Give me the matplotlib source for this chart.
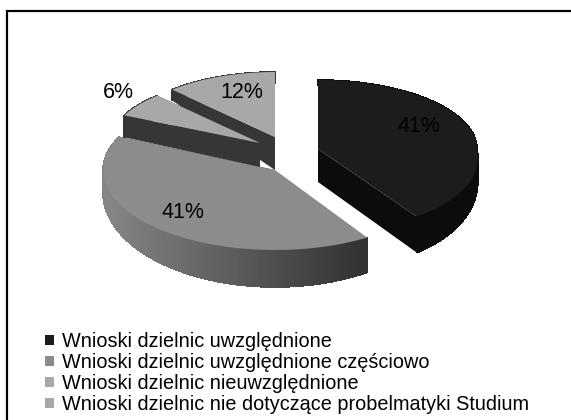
import numpy as np
import matplotlib
matplotlib.use('Agg')
import matplotlib.pyplot as plt
from matplotlib.patches import Polygon, Patch, Rectangle

labels = ['Wnioski dzielnic uwzględnione',
          'Wnioski dzielnic uwzględnione częściowo',
          'Wnioski dzielnic nieuwzględnione',
          'Wnioski dzielnic nie dotyczące probelmatyki Studium']
values = [41, 41, 6, 12]
top_colors = ['#1c1c1c', '#8c8c8c', '#a8a8a8', '#a8a8a8']
legend_colors = ['#1c1c1c', '#8c8c8c', '#a8a8a8', '#a8a8a8']

# pixel layout of each exploded slice: apex x, apex y, rx, ry back, ry front, skew
layout = [(318, 149, 159, 69, 80, 0.2),
          (275, 170, 172, 78, 80, 0.0),
          (260, 143, 150, 65, 65, 0.0),
          (275, 137, 150, 65, 65, 0.0)]
# wall height: rim y stops, heights there, height at the apex
wall_y = [[90, 150, 216], [130, 173, 250], [118, 143], [92, 137]]
wall_h = [[5, 23, 36], [15, 23, 37], [22, 24], [11, 33]]
apex_h = [33, 33, 24, 33]
label_pos = [(419, 127), (183, 213), (118, 92), (242, 93)]


def rim(t, lay):
    cx, cy, rx, ryb, ryf, skew = lay
    c = np.cos(t)
    dy = np.where(c > 0, -ryb * c, -ryf * c)
    return cx + rx * np.sin(t) + skew * np.maximum(dy, 0), cy + dy


plt.rcParams['font.family'] = ['Liberation Sans', 'DejaVu Sans']
fig = plt.figure(figsize=(5.71, 4.2), dpi=100)
ax = fig.add_axes([0, 0, 1, 1])
ax.set_xlim(0, 571)
ax.set_ylim(420, 0)
ax.axis('off')

# frame runs off the right and bottom of the picture
ax.add_patch(Rectangle((7, 11), 600, 430, fc='white', ec='black', lw=1.6))

edges = np.radians(np.cumsum([0] + values) / sum(values) * 360)
wall_colors = ['#0c0c0c', '#333333', '#363636', '#363636']

# back slices drawn so that slice 3 sits on top of its neighbours
for i in [0, 1, 3, 2]:
    lay = layout[i]
    t = np.linspace(edges[i], edges[i + 1], 120)
    x, y = rim(t, lay)
    cx, cy = lay[0], lay[1]
    d = np.interp(y, wall_y[i], wall_h[i])
    dc = apex_h[i]

    # outer wall in strips, slice 2 fades from mid grey to dark
    for j in range(len(t) - 1):
        col = wall_colors[i]
        if i == 1:
            f = np.clip((x[j] - 110) / 250, 0, 1)
            g = 0.52 * (1 - f) + 0.2 * f
            col = (g, g, g)
        ax.add_patch(Polygon([(x[j], y[j]), (x[j + 1], y[j + 1]),
                              (x[j + 1], y[j + 1] + d[j + 1]), (x[j], y[j] + d[j])],
                             fc=col, ec=col, lw=0.5, antialiased=False))

    # flat cut faces
    for k in [0, -1]:
        if i == 1 and k == 0:
            continue
        ax.add_patch(Polygon([(cx, cy), (x[k], y[k]), (x[k], y[k] + d[k]), (cx, cy + dc)],
                             fc=wall_colors[i], ec='none'))

    top = np.column_stack([np.r_[cx, x], np.r_[cy, y]])
    ax.add_patch(Polygon(top, fc=top_colors[i], ec='none'))

for v, (lx, ly) in zip(values, label_pos):
    ax.text(lx, ly, f'{v}%', fontsize=15.5, ha='center', va='center', color='black')

handles = [Patch(fc=c, ec='none') for c in legend_colors]
ax.legend(handles, labels, loc='lower left', bbox_to_anchor=(45 / 571, 6 / 420),
          frameon=False, fontsize=14.3, labelspacing=0.1, handlelength=0.45,
          handleheight=0.45, handletextpad=0.4, borderpad=0, borderaxespad=0)

fig.savefig('out.png', dpi=100)
